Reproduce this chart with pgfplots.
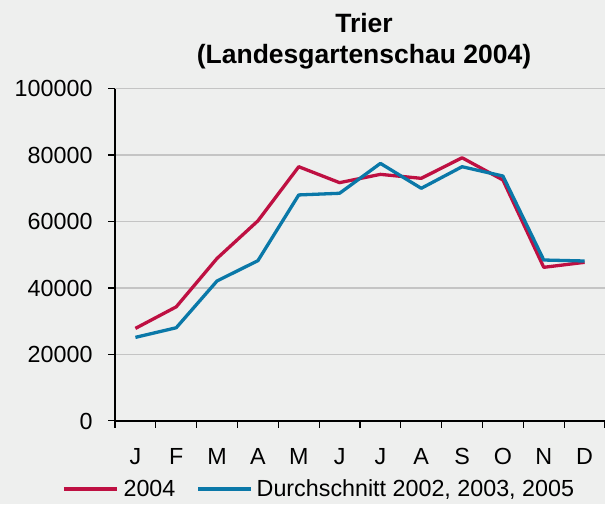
\documentclass[border=0pt]{standalone}
\usepackage{pgfplots}
\pgfplotsset{compat=1.18}
\usepackage{fontspec}
\setmainfont{Liberation Sans}
\definecolor{bgc}{HTML}{EEEFEE}
\definecolor{gridc}{HTML}{C4C4C4}
\definecolor{redc}{HTML}{BE1042}
\definecolor{bluec}{HTML}{0A78A8}
\begin{document}
\begin{tikzpicture}[x=1pt,y=1pt]
\fill[bgc] (0,0) rectangle (605,504);
\useasboundingbox (0,0) rectangle (605,504);
\node[anchor=base,font=\fontsize{26.5}{31}\selectfont\bfseries] at (364,471.7) {Trier};
\node[anchor=base,font=\fontsize{26.5}{31}\selectfont\bfseries] at (364,440.7) {(Landesgartenschau 2004)};
\begin{axis}[
  at={(115pt,83.3pt)}, anchor=south west,
  scale only axis, width=490pt, height=332pt,
  xmin=-0.5, xmax=11.5, ymin=0, ymax=100000,
  axis x line=bottom, axis y line=left,
  axis line style={line width=2pt, black, -},
  xtick={0,...,11},
  xticklabels={J,F,M,A,M,J,J,A,S,O,N,D},
  major x tick style={draw=none},
  minor xtick={-0.5,0.5,...,11.5},
  minor x tick style={line width=1.3pt, black},
  minor tick length=7pt,
  ytick={0,20000,...,100000},
  major y tick style={line width=1.3pt, black},
  major tick length=7pt,
  tick align=outside,
  ymajorgrids,
  major grid style={gridc, line width=1.3pt},
  scaled y ticks=false,
  yticklabel={\pgfmathprintnumber[fixed,1000 sep={}]{\tick}},
  /pgf/number format/assume math mode=true,
  ticklabel style={font=\fontsize{23.3}{28}\selectfont},
  yticklabel style={anchor=base east, inner sep=0pt, xshift=-15.3pt, yshift=-8.3pt},
  xticklabel style={anchor=base, inner sep=0pt, yshift=-36.3pt},
  legend columns=2,
  legend style={at={(-0.108,-0.2057)}, anchor=west, draw=none, fill=none,
    inner sep=0pt, font=\fontsize{23.3}{28}\selectfont,
    nodes={inner sep=0pt}},
  legend image code/.code={\draw[#1, line width=3.3pt] (0pt,0pt) -- (53pt,0pt);},
  legend cell align=left,
]
\addplot[redc, line width=3.3pt, line join=round] coordinates {
 (0,27800) (1,34300) (2,48900) (3,60200) (4,76500) (5,71700)
 (6,74200) (7,73000) (8,79200) (9,72500) (10,46200) (11,47700)};
\addlegendentry{\rule{5pt}{0pt}2004\rule{21pt}{0pt}}
\addplot[bluec, line width=3.3pt, line join=round] coordinates {
 (0,25100) (1,28000) (2,42100) (3,48200) (4,68000) (5,68500)
 (6,77500) (7,70000) (8,76500) (9,73700) (10,48400) (11,48100)};
\addlegendentry{\rule{4pt}{0pt}Durchschnitt 2002, 2003, 2005}
\end{axis}
\end{tikzpicture}
\end{document}
